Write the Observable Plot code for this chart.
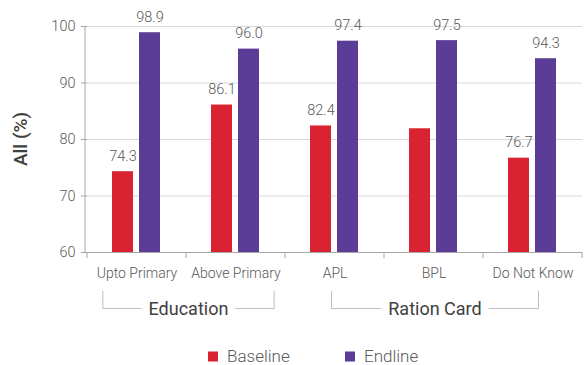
<!DOCTYPE html>
<html><head><meta charset="utf-8">
<script src="https://cdn.jsdelivr.net/npm/d3@7"></script>
<script src="https://cdn.jsdelivr.net/npm/@observablehq/plot@0.6"></script>
<style>body{margin:0;background:#fff}</style>
</head><body><div id="chart"></div>
<script>
const categories = ["Upto Primary","Above Primary","APL","BPL","Do Not Know"];
const groupNames = ["Education","Ration Card"];
const groupMembers = [["Upto Primary","Above Primary"],["APL","BPL","Do Not Know"]];
const series = ["Baseline","Endline"];
const baseline = [74.3,86.1,82.4,81.9,76.7];
const endline = [98.9,96.0,97.4,97.5,94.3];
const baselineLabels = ["74.3","86.1","82.4",null,"76.7"];
const endlineLabels = ["98.9","96.0","97.4","97.5","94.3"];
const yTicks = [60,70,80,90,100];
const colors = ["#d92332","#5b3c96"];
const yTitle = "All (%)";

const data = [];
categories.forEach((c,i)=>{
  data.push({category:c, series:"Baseline", value:baseline[i], label:baselineLabels[i]});
  data.push({category:c, series:"Endline", value:endline[i], label:endlineLabels[i]});
});

const W=587,H=365, mL=85, mR=3, mT=26, mB=113;
const plot = Plot.plot({
  width:W, height:H, marginLeft:mL, marginRight:mR, marginTop:mT, marginBottom:mB,
  style:{fontFamily:"Roboto, sans-serif", background:"#fff", overflow:"visible"},
  fx:{domain:categories, padding:0, label:null},
  x:{domain:series, paddingInner:0.214, paddingOuter:0.884, axis:null},
  y:{domain:[60,100], label:null},
  color:{domain:series, range:colors},
  marks:[
    Plot.ruleY(yTicks.slice(1), {stroke:"#d9d9d9", strokeWidth:1}),
    Plot.barY(data, {fx:"category", x:"series", y1:60, y2:"value", fill:"series"}),
    Plot.ruleY([60], {stroke:"#a6a6a6"}),
    Plot.text(data.filter(d=>d.label), {fx:"category", x:"series", y:"value", text:"label", lineAnchor:"bottom", dy:-11, fill:"#595959", fontSize:14.5, fontWeight:300}),
    Plot.axisY({ticks:yTicks, tickSize:6, tickPadding:6, stroke:"#a6a6a6", fill:"#595959", fontSize:14.5, fontWeight:300, label:null, tickFormat:d=>String(d)}),
    Plot.axisFx({anchor:"bottom", tickSize:0, tickPadding:16, fill:"#595959", fontSize:14, fontWeight:300, label:null})
  ]
});
document.getElementById("chart").appendChild(plot);

const fx = plot.scale("fx"), y = plot.scale("y");
const bw = fx.bandwidth;
const svg = d3.select(plot);
const g = svg.append("g").attr("font-family","Roboto, sans-serif").attr("text-anchor","start");
const y0 = y.apply(60);
// y axis line
g.append("line").attr("x1",mL).attr("x2",mL).attr("y1",y.apply(60)).attr("y2",y.apply(100)).attr("stroke","#a6a6a6");
// category boundary ticks
const bounds = categories.map(c=>fx.apply(c)).concat([fx.apply(categories[categories.length-1])+bw]);
bounds.forEach(x=>{
  g.append("line").attr("x1",x).attr("x2",x).attr("y1",y0).attr("y2",y0+6).attr("stroke","#a6a6a6");
});
// group brackets
const bracketFrac = [[0.16,0.89],[0.47,0.56]];
const topY = 291, lineY = 308.5;
groupNames.forEach((name,i)=>{
  const m = groupMembers[i];
  const xl = fx.apply(m[0]) + bracketFrac[i][0]*bw;
  const xr = fx.apply(m[m.length-1]) + bracketFrac[i][1]*bw;
  const cx = (xl+xr)/2;
  const t = g.append("text").attr("x",cx).attr("y",lineY).attr("dy","0.35em").attr("text-anchor","middle")
    .attr("font-size",18).attr("font-weight",400).attr("fill","#404040").text(name);
  const tw = t.node().getComputedTextLength();
  const gap = tw/2 + 7;
  g.append("path").attr("fill","none").attr("stroke","#bfbfbf")
    .attr("d",`M${xl},${topY}V${lineY}H${cx-gap}M${cx+gap},${lineY}H${xr}V${topY}`);
});
// y title
g.append("text").attr("transform",`translate(20,${(y.apply(60)+y.apply(100))/2}) rotate(-90)`)
  .attr("text-anchor","middle").attr("dy","0.35em").attr("font-size",19).attr("font-weight",500).attr("fill","#404040").text(yTitle);
// legend
const legX = [208,345], legY = 356;
series.forEach((s,i)=>{
  g.append("rect").attr("x",legX[i]).attr("y",legY-4.5).attr("width",10).attr("height",10).attr("fill",colors[i]);
  g.append("text").attr("x",legX[i]+19).attr("y",legY).attr("dy","0.35em").attr("text-anchor","start").attr("font-size",17).attr("font-weight",300).attr("fill","#595959").text(s);
});
</script>
</body></html>
